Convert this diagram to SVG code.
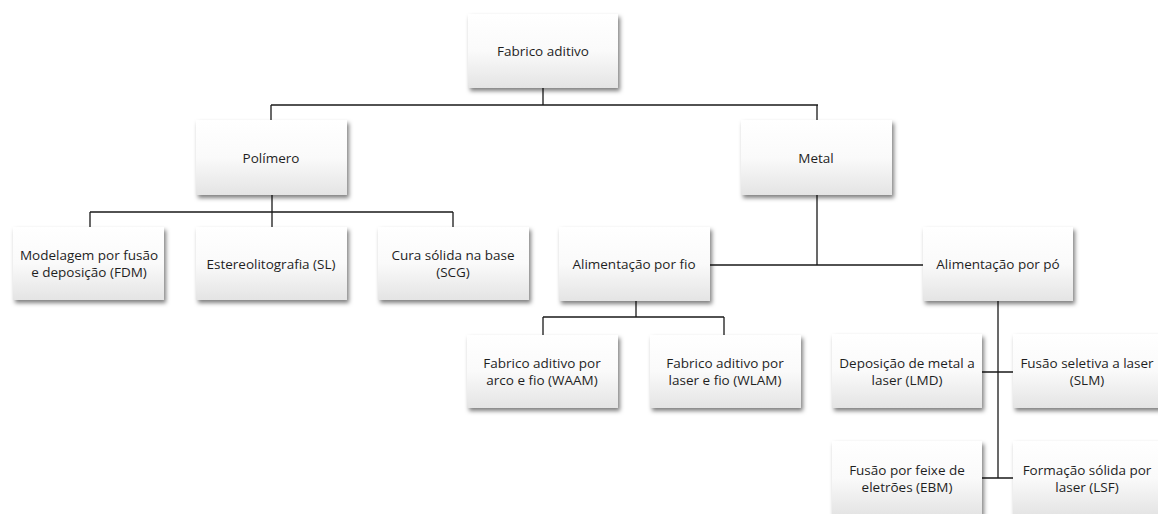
<svg xmlns="http://www.w3.org/2000/svg" width="1158" height="514" viewBox="0 0 1158 514">
<defs>
<linearGradient id="g" x1="0" y1="0" x2="0" y2="1">
<stop offset="0" stop-color="#ffffff"/>
<stop offset="0.5" stop-color="#fafafa"/>
<stop offset="1" stop-color="#e4e4e4"/>
</linearGradient>
<filter id="sh" x="-10%" y="-10%" width="125%" height="130%">
<feDropShadow dx="2" dy="3" stdDeviation="2" flood-color="#000" flood-opacity="0.5"/>
</filter>
</defs>
<style>
.box{fill:url(#g);filter:url(#sh)}
.t{font-family:"Open Sans","Liberation Sans",sans-serif;font-size:13.5px;fill:#1f1f1f;text-anchor:middle}
.c{stroke:#1a1a1a;stroke-width:1.3;fill:none}
</style>
<rect width="1158" height="514" fill="#ffffff"/>
<g id="connectors" class="c">
<path d="M543 88V105M271 105H818M271 105V120M817 105V120"/>
<path d="M272 195V212M90 212H453M90 212V227M272 212V227M453 212V227"/>
<path d="M817 195V265M710 265H923"/>
<path d="M636 301V317M543 317H724M543 317V335M724 317V335"/>
<path d="M998 301V478M982 372H1013M982 478H1013"/>
</g>
<g id="n-fabrico"><rect class="box" x="468" y="14" width="150" height="74"/><text class="t" x="543" y="56">Fabrico aditivo</text></g>
<g id="n-polimero"><rect class="box" x="196" y="120" width="151" height="75"/><text class="t" x="271" y="163">Polímero</text></g>
<g id="n-metal"><rect class="box" x="741" y="120" width="151" height="75"/><text class="t" x="816" y="163">Metal</text></g>
<g id="n-fdm"><rect class="box" x="13" y="227" width="151" height="73"/><text class="t" x="89" y="260">Modelagem por fusão</text><text class="t" x="89" y="277">e deposição (FDM)</text></g>
<g id="n-sl"><rect class="box" x="196" y="227" width="151" height="73"/><text class="t" x="271" y="269">Estereolitografia (SL)</text></g>
<g id="n-scg"><rect class="box" x="378" y="227" width="151" height="73"/><text class="t" x="453" y="260">Cura sólida na base</text><text class="t" x="453" y="277">(SCG)</text></g>
<g id="n-fio"><rect class="box" x="559" y="227" width="151" height="74"/><text class="t" x="634" y="269">Alimentação por fio</text></g>
<g id="n-po"><rect class="box" x="923" y="227" width="150" height="74"/><text class="t" x="998" y="269">Alimentação por pó</text></g>
<g id="n-waam"><rect class="box" x="467" y="335" width="151" height="73"/><text class="t" x="542" y="368">Fabrico aditivo por</text><text class="t" x="542" y="385">arco e fio (WAAM)</text></g>
<g id="n-wlam"><rect class="box" x="650" y="335" width="151" height="73"/><text class="t" x="725" y="368">Fabrico aditivo por</text><text class="t" x="725" y="385">laser e fio (WLAM)</text></g>
<g id="n-lmd"><rect class="box" x="832" y="334" width="150" height="74"/><text class="t" x="907" y="368">Deposição de metal a</text><text class="t" x="907" y="385">laser (LMD)</text></g>
<g id="n-slm"><rect class="box" x="1013" y="334" width="150" height="74"/><text class="t" x="1087" y="368">Fusão seletiva a laser</text><text class="t" x="1087" y="385">(SLM)</text></g>
<g id="n-ebm"><rect class="box" x="832" y="441" width="150" height="74"/><text class="t" x="907" y="475">Fusão por feixe de</text><text class="t" x="907" y="492">eletrões (EBM)</text></g>
<g id="n-lsf"><rect class="box" x="1013" y="441" width="150" height="74"/><text class="t" x="1087" y="475">Formação sólida por</text><text class="t" x="1087" y="492">laser (LSF)</text></g>
</svg>
